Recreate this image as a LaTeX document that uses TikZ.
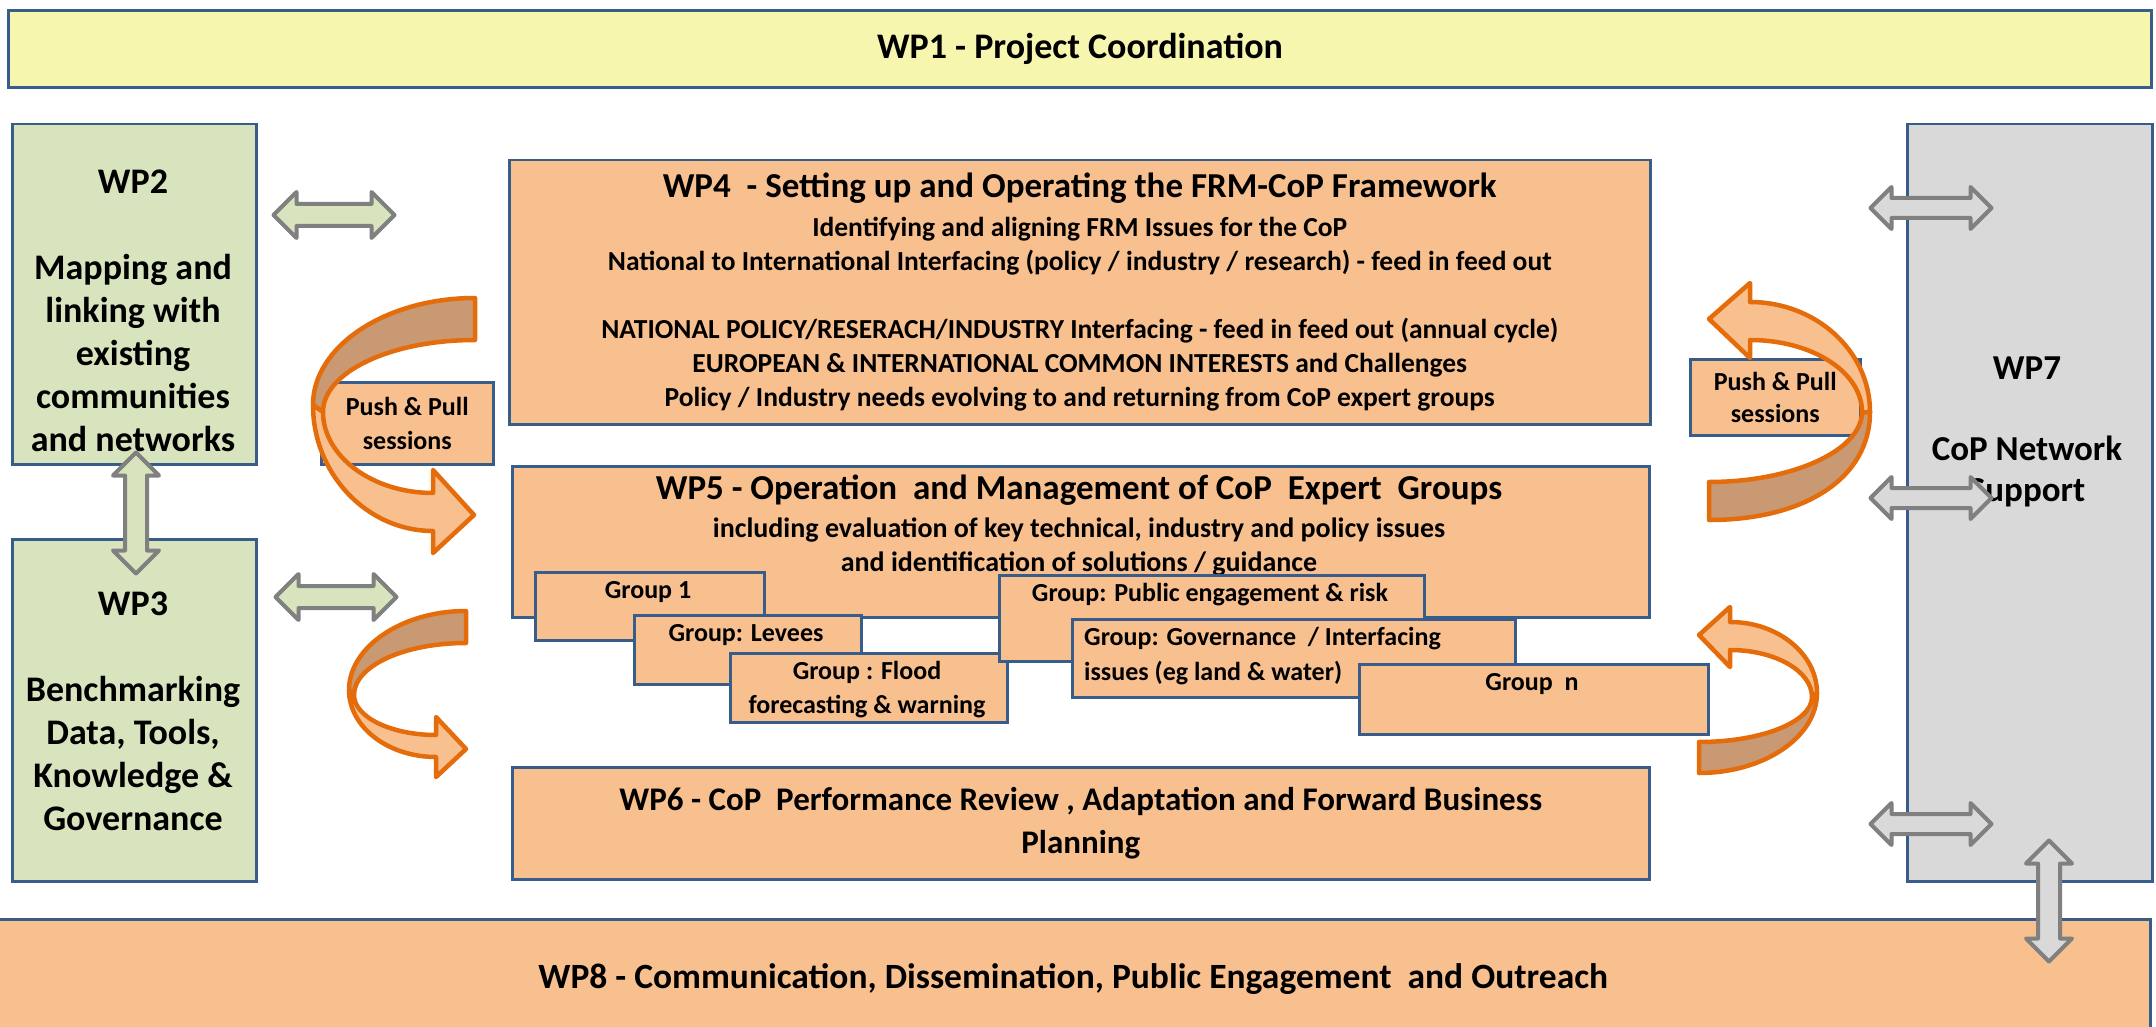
\documentclass[tikz,border=0pt]{standalone}
\usepackage{fontspec}
\setmainfont{Carlito}
\usetikzlibrary{shapes.arrows}

\definecolor{wpblue}{RGB}{56,93,138}
\definecolor{wpyellow}{RGB}{247,246,174}
\definecolor{wpgreen}{RGB}{216,228,190}
\definecolor{wporange}{RGB}{249,192,143}
\definecolor{wpgrey}{RGB}{217,217,217}
\definecolor{arrgrey}{RGB}{128,128,128}
\definecolor{curveline}{RGB}{228,108,10}
\definecolor{curvedark}{RGB}{201,153,115}

\newcommand{\wpfont}[2]{\fontsize{#1}{#2}\selectfont\bfseries}

\begin{document}
\begin{tikzpicture}[x=1pt, y=-1pt,
    wp/.style={draw=wpblue, line width=2.5pt, anchor=north west, inner sep=0pt, align=center},
    lbl/.style={inner sep=0pt, align=center},
    dblarrow/.style={double arrow, draw=arrgrey, line width=4pt, line join=round,
      inner xsep=0pt, inner ysep=9pt, minimum height=121, minimum width=42,
      double arrow head extend=12},
    ribbon/.style={draw=curveline, line width=4.5pt, line join=round}]
  \clip (0,0) rectangle (2156,1027);
  \fill[white] (0,0) rectangle (2156,1027);

  \node[wp, fill=wpyellow, line width=3pt, minimum width=2143, minimum height=77, font=\wpfont{36}{42}] (wp1) at (7,9) {WP1 - Project Coordination};

  \node[wp, fill=wpgreen, minimum width=244, minimum height=340] (wp2) at (11,123) {};
  \node[lbl, font=\wpfont{36}{43}] (wp2txt) at (133,311) {WP2\\[43pt] Mapping and\\ linking with\\ existing\\ communities\\ and networks};
  \node[wp, fill=wpgreen, minimum width=244, minimum height=342] (wp3) at (11,538) {};
  \node[lbl, font=\wpfont{36}{43}] (wp3txt) at (133,711) {WP3\\[43pt] Benchmarking\\ Data, Tools,\\ Knowledge \&\\ Governance};

  \node[wp, fill=wporange, minimum width=1141, minimum height=264, font=\wpfont{27.5}{34}] (wp4) at (508,159)
    {{\wpfont{35}{34}WP4~ - Setting up and Operating the FRM-CoP Framework}\\[5pt]
     Identifying and aligning FRM Issues for the CoP\\
     National to International Interfacing (policy / industry / research) - feed in feed out\\[34pt]
     NATIONAL POLICY/RESERACH/INDUSTRY Interfacing - feed in feed out (annual cycle)\\
     EUROPEAN \& INTERNATIONAL COMMON INTERESTS and Challenges\\
     Policy / Industry needs evolving to and returning from CoP expert groups};

  \node[wp, fill=wporange, minimum width=1137, minimum height=151] (wp5) at (511,465) {};
  \node[lbl, font=\wpfont{28}{34}] (wp5txt) at (1079,526)
    {{\wpfont{35}{34}WP5 - Operation~ and Management of CoP~ Expert~ Groups}\\[4pt]
     including evaluation of key technical, industry and policy issues\\
     and identification of solutions / guidance};

  \node[wp, fill=wporange, minimum width=229, minimum height=68] (g1) at (534,571) {};
  \node[lbl, font=\wpfont{26}{34}] (g1txt) at (648,592) {Group 1};
  \node[wp, fill=wporange, minimum width=227, minimum height=69] (glev) at (633,614) {};
  \node[lbl, font=\wpfont{26}{34}] (glevtxt) at (746,635) {Group: Levees};
  \node[wp, fill=wporange, minimum width=277, minimum height=69] (gflood) at (729,652) {};
  \node[lbl, font=\wpfont{26}{34}] (gfloodtxt) at (867,690) {Group : Flood\\ forecasting \& warning};
  \node[wp, fill=wporange, minimum width=425, minimum height=86] (gpub) at (998,574) {};
  \node[lbl, font=\wpfont{26}{34}] (gpubtxt) at (1210,595) {Group: Public engagement \& risk};
  \node[wp, fill=wporange, minimum width=443, minimum height=78] (ggov) at (1071,618) {};
  \node[lbl, align=left, anchor=west, font=\wpfont{26}{35}] (ggovtxt) at (1084,656) {Group: Governance~ / Interfacing\\ issues (eg land \& water)};
  \node[wp, fill=wporange, minimum width=349, minimum height=70] (gn) at (1358,663) {};
  \node[lbl, font=\wpfont{26}{34}] (gntxt) at (1532,684) {Group~ n};

  \node[wp, fill=wporange, minimum width=1137, minimum height=112, font=\wpfont{33}{43}] (wp6) at (511,766)
    {WP6 - CoP~ Performance Review , Adaptation and Forward Business\\ Planning};

  \node[wp, fill=wpgrey, minimum width=245, minimum height=757] (wp7) at (1906,123) {};
  \node[lbl, font=\wpfont{35}{41}] (wp7txt) at (2027,432) {WP7\\[40pt] CoP Network\\ Support};

  \node[wp, fill=wporange, minimum width=2154, minimum height=120, font=\wpfont{35.5}{43}] (wp8) at (-5,918)
    {WP8 - Communication, Dissemination, Public Engagement~ and Outreach};

  \node[wp, fill=wporange, minimum width=172, minimum height=82, font=\wpfont{26}{34}] (pushL) at (320,381) {Push \& Pull\\ sessions};
  \node[wp, fill=wporange, minimum width=170, minimum height=76, font=\wpfont{26}{32}] (pushR) at (1689,358) {Push \& Pull\\ sessions};

  \node[dblarrow, fill=wpgreen] (aL1) at (334,215) {};
  \node[dblarrow, fill=wpgreen] (aL2) at (336,597) {};
  \node[dblarrow, fill=wpgreen, rotate=90] (aV1) at (136,513) {};
  \node[dblarrow, fill=wpgrey, minimum width=38, inner ysep=8pt, double arrow head extend=11] (aR1) at (1931,208) {};
  \node[dblarrow, fill=wpgrey, minimum width=38, inner ysep=8pt, double arrow head extend=11] (aR2) at (1931,498) {};
  \node[dblarrow, fill=wpgrey, minimum width=38, inner ysep=8pt, double arrow head extend=11] (aR3) at (1931,824) {};
  \node[dblarrow, fill=wpgrey, rotate=90] (aV2) at (2049,901) {};

  \filldraw[ribbon, fill=curvedark] (475,298) .. controls (386,298) and (313,346) .. (313,405) -- (323,412) .. controls (323,372) and (391,340) .. (475,340) -- cycle;
  \filldraw[ribbon, fill=wporange] (313,405) .. controls (313,474) and (367,531) .. (433,531) -- (433,553) -- (474,515) -- (433,470) -- (433,493) .. controls (372,493) and (323,456) .. (323,412) -- cycle;

  \filldraw[ribbon, fill=curvedark] (466,611) .. controls (402,611) and (349,647) .. (349,690) -- (354,695) .. controls (354,666) and (404,643) .. (466,643) -- cycle;
  \filldraw[ribbon, fill=wporange] (349,690) .. controls (349,727) and (388,757) .. (436,757) -- (436,777) -- (466,749) -- (436,717) -- (436,735) .. controls (391,735) and (354,717) .. (354,695) -- cycle;

  \filldraw[ribbon, fill=curvedark] (1870,412) .. controls (1870,478) and (1805,520) .. (1709,520) -- (1709,482) .. controls (1793,482) and (1862,450) .. (1862,412) -- cycle;
  \filldraw[ribbon, fill=wporange] (1750,302) .. controls (1816,302) and (1870,351) .. (1870,412) -- (1862,412) .. controls (1862,372) and (1812,340) .. (1750,340) -- (1750,358) -- (1709,319) -- (1750,283) -- cycle;

  \filldraw[ribbon, fill=curvedark] (1817,693) .. controls (1817,737) and (1764,773) .. (1699,773) -- (1699,742) .. controls (1761,742) and (1812,722) .. (1812,697) -- cycle;
  \filldraw[ribbon, fill=wporange] (1730,622) .. controls (1778,622) and (1817,654) .. (1817,693) -- (1812,697) .. controls (1812,671) and (1775,650) .. (1730,650) -- (1730,667) -- (1699,635) -- (1730,607) -- cycle;
\end{tikzpicture}
\end{document}
